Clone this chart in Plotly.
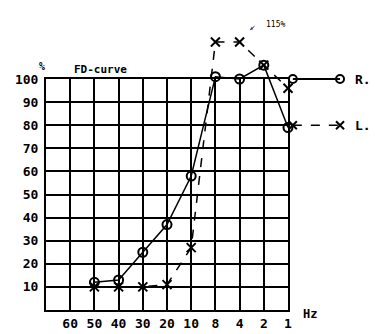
import plotly.graph_objects as go

freq_labels = ["60", "50", "40", "30", "20", "10", "8", "4", "2", "1"]
r_freqs = ["50", "40", "30", "20", "10", "8", "4", "2", "1"]
r_values = [12, 13, 25, 37, 58, 101, 100, 106, 79]
l_freqs = ["50", "40", "30", "20", "10", "8", "4", "2", "1"]
l_values = [10, 10, 10, 11, 27, 116, 116, 106, 96]
y_ticks = [10, 20, 30, 40, 50, 60, 70, 80, 90, 100]

pos = {lab: i + 1 for i, lab in enumerate(freq_labels)}
FONT = "DejaVu Sans Mono"

# geometry: grid box 0..10 x 0..100 ; second axes pair extends above/right
W, H = 375, 334
ML, MR, MT, MB = 46, 10, 21, 24
pw, ph = W - ML - MR, H - MT - MB
grid_w, grid_h = 242, 231
xdom = grid_w / pw
ydom = grid_h / ph
x2max = 10 / xdom
y2max = 100 / ydom

fig = go.Figure()
# empty trace so the grid subplot (x, y) is drawn
fig.add_trace(go.Scatter(x=[None], y=[None], mode="markers", xaxis="x", yaxis="y",
                         showlegend=False, hoverinfo="skip"))
fig.add_trace(go.Scatter(
    x=[pos[f] for f in r_freqs], y=r_values, mode="lines+markers",
    line=dict(color="black", width=1.5),
    marker=dict(symbol="circle-open", size=9, color="black", line=dict(width=2)),
    xaxis="x2", yaxis="y2", cliponaxis=False, showlegend=False))
fig.add_trace(go.Scatter(
    x=[pos[f] for f in l_freqs], y=l_values, mode="lines+markers",
    line=dict(color="black", width=1.5, dash="dash"),
    marker=dict(symbol="x-thin", size=9, color="black", line=dict(width=2, color="black")),
    xaxis="x2", yaxis="y2", cliponaxis=False, showlegend=False))

# manual legend
fig.add_trace(go.Scatter(
    x=[10.2, 12.15], y=[100, 100], mode="lines+markers",
    line=dict(color="black", width=2),
    marker=dict(symbol="circle-open", size=8, color="black", line=dict(width=2)),
    xaxis="x2", yaxis="y2", cliponaxis=False, showlegend=False, hoverinfo="skip"))
fig.add_trace(go.Scatter(
    x=[10.2, 12.15], y=[80, 80], mode="lines+markers",
    line=dict(color="black", width=1.5, dash="dash"),
    marker=dict(symbol="x-thin", size=8, color="black", line=dict(width=2, color="black")),
    xaxis="x2", yaxis="y2", cliponaxis=False, showlegend=False, hoverinfo="skip"))

fig.add_annotation(x=12.7, y=100, xref="x2", yref="y2", text="<b>R.</b>", showarrow=False,
                   xanchor="left", font=dict(family=FONT, size=13, color="black"))
fig.add_annotation(x=12.7, y=80, xref="x2", yref="y2", text="<b>L.</b>", showarrow=False,
                   xanchor="left", font=dict(family=FONT, size=13, color="black"))


def px(xp):
    return (xp - ML) / pw


def py(yp):
    return (H - MB - yp) / ph


fig.add_annotation(x=px(72), y=py(61), xref="paper", yref="paper", text="<b>FD-curve</b>",
                   showarrow=False, xanchor="left", font=dict(family=FONT, size=11, color="black"))
fig.add_annotation(x=px(37), y=py(59), xref="paper", yref="paper", text="<b>%</b>",
                   showarrow=False, font=dict(family=FONT, size=10, color="black"))
fig.add_annotation(x=px(301), y=py(323), xref="paper", yref="paper", text="<b>Hz</b>",
                   showarrow=False, xanchor="left", font=dict(family=FONT, size=12, color="black"))
fig.add_annotation(x=px(264), y=py(18), xref="paper", yref="paper", text="115%",
                   showarrow=False, xanchor="left", font=dict(family=FONT, size=8, color="black"))
fig.add_annotation(x=px(250), y=py(30), xref="paper", yref="paper", text="",
                   showarrow=True, arrowhead=2, arrowsize=0.6, arrowwidth=1, ax=6, ay=-5)

fig.update_layout(
    width=W, height=H, margin=dict(l=ML, r=MR, t=MT, b=MB),
    plot_bgcolor="rgba(0,0,0,0)", paper_bgcolor="white",
    xaxis=dict(domain=[0, xdom], range=[0, 10], tickvals=list(range(1, 11)),
               ticktext=["<b>%s</b>" % t for t in freq_labels],
               showgrid=True, gridcolor="black", gridwidth=2,
               showline=True, linecolor="black", linewidth=2, mirror=True,
               zeroline=False, ticks="", automargin=False,
               tickfont=dict(family=FONT, size=13, color="black")),
    yaxis=dict(domain=[0, ydom], range=[0, 100], tickvals=y_ticks,
               ticktext=["<b>%d</b>" % v for v in y_ticks],
               showgrid=True, gridcolor="black", gridwidth=2,
               showline=True, linecolor="black", linewidth=2, mirror=True,
               zeroline=False, ticks="", ticklabelstandoff=3, automargin=False,
               tickfont=dict(family=FONT, size=13, color="black")),
    xaxis2=dict(domain=[0, 1], range=[0, x2max], anchor="y2", visible=False),
    yaxis2=dict(domain=[0, 1], range=[0, y2max], anchor="x2", visible=False),
)
fig.write_html("out.html", config={"displayModeBar": False},
               post_script="document.body.style.margin='0';")
